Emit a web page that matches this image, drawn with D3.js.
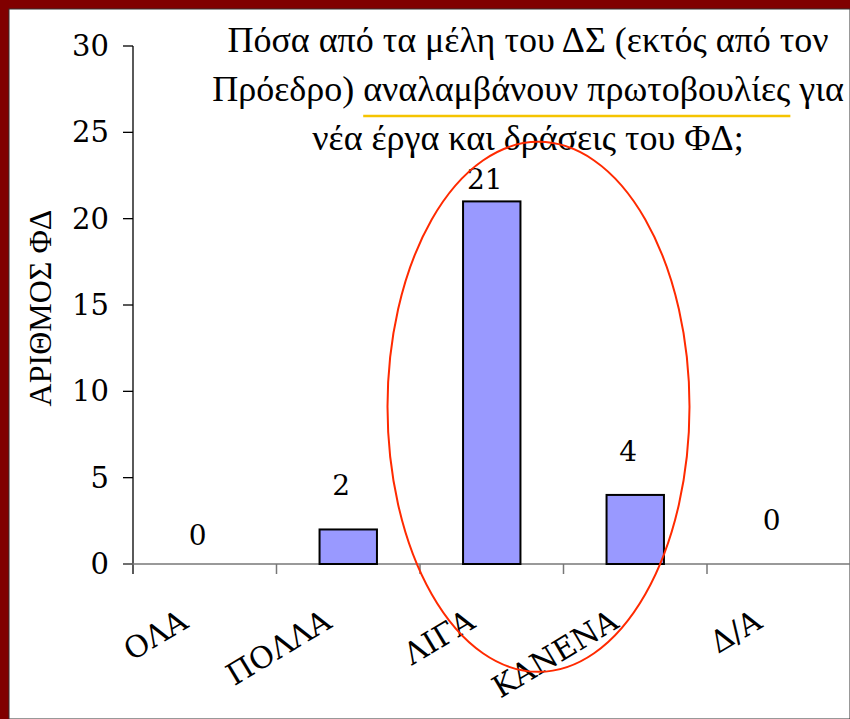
<!DOCTYPE html>
<html>
<head>
<meta charset="utf-8">
<script src="https://cdn.jsdelivr.net/npm/d3@7"></script>
<style>
  html, body { margin: 0; padding: 0; background: #fff; }
  svg { display: block; }
</style>
</head>
<body>
<svg id="chart" width="850" height="719"></svg>
<script>
/* Bar chart: how many board members (besides the chair) take initiatives */
var categories = ['ΟΛΑ', 'ΠΟΛΛΑ', 'ΛΙΓΑ', 'ΚΑΝΕΝΑ', 'Δ/Α'];
var values = [0, 2, 21, 4, 0];
var yTicks = [0, 5, 10, 15, 20, 25, 30];
var titleLines = [
  'Πόσα από τα μέλη του ΔΣ (εκτός από τον',
  'Πρόεδρο) αναλαμβάνουν πρωτοβουλίες για',
  'νέα έργα και δράσεις του ΦΔ;'
];
var underlined = 'αναλαμβάνουν πρωτοβουλίες';
var yTitle = 'ΑΡΙΘΜΟΣ ΦΔ';
var circled = ['ΛΙΓΑ', 'ΚΑΝΕΝΑ'];

(function () {
  'use strict';
  var svg = d3.select('#chart');
  var numFont = '"DejaVu Serif", serif';
  var textFont = '"Liberation Serif", "Times New Roman", serif';

  var rows = categories.map(function (c, i) { return { cat: c, val: values[i], idx: i }; });

  // frame
  svg.append('rect').attr('x', 0).attr('y', 0).attr('width', 850).attr('height', 719).attr('fill', '#800000');
  svg.append('rect').attr('x', 9).attr('y', 9).attr('width', 841).attr('height', 710)
    .attr('fill', '#fff').attr('stroke', '#333').attr('stroke-width', 1);

  var x = d3.scaleBand().domain(categories).range([133, 850.5]).paddingInner(0).paddingOuter(0);
  var y = d3.scaleLinear().domain([0, 30]).range([564, 46]);
  var barW = x.bandwidth() * 0.4;

  // y axis
  var yAxis = svg.append('g');
  yAxis.append('line').attr('x1', 133).attr('x2', 133).attr('y1', y(30)).attr('y2', y(0) + 10)
    .attr('stroke', '#000').attr('stroke-width', 1.3);
  yAxis.selectAll('.yt').data(yTicks).enter().append('line')
    .attr('x1', 123).attr('x2', 133)
    .attr('y1', function (d) { return y(d); }).attr('y2', function (d) { return y(d); })
    .attr('stroke', '#000').attr('stroke-width', 1.3);
  yAxis.selectAll('.yl').data(yTicks).enter().append('text')
    .attr('x', 109).attr('y', function (d) { return y(d) + 10; })
    .attr('text-anchor', 'end').attr('font-family', numFont).attr('font-size', 29)
    .attr('font-weight', 300)
    .text(function (d) { return d; });

  // x axis
  svg.append('line').attr('x1', 123).attr('x2', 850).attr('y1', y(0)).attr('y2', y(0))
    .attr('stroke', '#777').attr('stroke-width', 1.5);
  svg.selectAll('.xt').data(categories.slice(1)).enter().append('line')
    .attr('x1', function (d) { return x(d); }).attr('x2', function (d) { return x(d); })
    .attr('y1', y(0)).attr('y2', y(0) + 10)
    .attr('stroke', '#777').attr('stroke-width', 1.5);

  // bars (zero values draw nothing)
  svg.selectAll('.bar').data(rows.filter(function (r) { return r.val > 0; })).enter().append('rect')
    .attr('x', function (r) { return x(r.cat) + (x.bandwidth() - barW) / 2; })
    .attr('y', function (r) { return y(r.val); })
    .attr('width', barW)
    .attr('height', function (r) { return y(0) - y(r.val); })
    .attr('fill', '#9999ff').attr('stroke', '#000').attr('stroke-width', 2);

  // data labels
  var labelLift = [19, 34, 12, 34, 34];
  svg.selectAll('.vl').data(rows).enter().append('text')
    .attr('x', function (r) { return x(r.cat) + x.bandwidth() / 2 - 7; })
    .attr('y', function (r) { return y(r.val) - labelLift[r.idx]; })
    .attr('text-anchor', 'middle').attr('font-family', numFont).attr('font-size', 28)
    .text(function (r) { return r.val; });

  // category labels
  svg.selectAll('.xl').data(categories).enter().append('text')
    .attr('transform', function (d) {
      return 'translate(' + (x(d) + x.bandwidth() / 2 - 26) + ',' + 608 + ') rotate(-31)';
    })
    .attr('text-anchor', 'end').attr('font-family', numFont).attr('font-size', 30)
    .attr('dy', '0.72em')
    .text(function (d) { return d; });

  // y title
  svg.append('text')
    .attr('transform', 'translate(51,' + 308 + ') rotate(-90)')
    .attr('text-anchor', 'middle').attr('font-family', textFont).attr('font-size', 32)
    .text(yTitle);

  // title
  var tx = 528;
  var tl = svg.selectAll('.tt').data(titleLines).enter().append('text')
    .attr('x', tx).attr('y', function (d, i) { return 52 + i * 49; })
    .attr('text-anchor', 'middle').attr('font-family', textFont).attr('font-size', 36)
    .text(function (d) { return d; });
  var line2 = tl.nodes()[1];
  var start = titleLines[1].indexOf(underlined);
  var total = line2.getComputedTextLength();
  var off = line2.getSubStringLength(0, start);
  var len = line2.getSubStringLength(start, underlined.length);
  svg.append('line')
    .attr('x1', tx - total / 2 + off).attr('x2', tx - total / 2 + off + len)
    .attr('y1', 116).attr('y2', 116)
    .attr('stroke', '#f5c400').attr('stroke-width', 2.5);

  // highlight ellipse around the two largest groups
  var cx = (x(circled[0]) + x(circled[1]) + x.bandwidth()) / 2 - 25;
  svg.append('ellipse')
    .attr('cx', cx).attr('cy', y(9.1))
    .attr('rx', 151).attr('ry', 265)
    .attr('fill', 'none').attr('stroke', '#ff2a00').attr('stroke-width', 2);
})();
</script>
</body>
</html>
